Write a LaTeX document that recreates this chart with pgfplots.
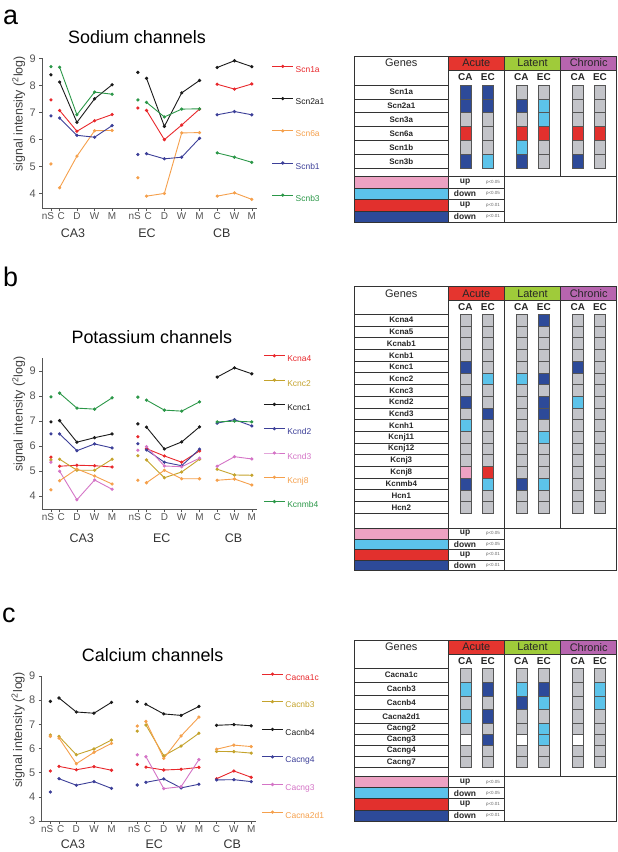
\documentclass[border=0pt]{standalone}
\usepackage{pgfplots}
\pgfplotsset{compat=1.18}
\usepackage{pgfplotstable}
\usepackage{fontspec}
\setmainfont{Liberation Sans}
\setsansfont{Liberation Sans}

% line colours
\definecolor{lred}{HTML}{E8282C}
\definecolor{lblack}{HTML}{1A1A1A}
\definecolor{lorange}{HTML}{F5A04C}
\definecolor{lblue}{HTML}{3C3F98}
\definecolor{lgreen}{HTML}{2B9748}
\definecolor{lolive}{HTML}{C4A32C}
\definecolor{lpink}{HTML}{D474C6}
% table colours
\definecolor{cdblue}{HTML}{2D4A99}
\definecolor{ccyan}{HTML}{5CC3EA}
\definecolor{cred}{HTML}{E2302D}
\definecolor{cpink}{HTML}{EDA2C3}
\definecolor{cgray}{HTML}{C3C4C9}
\definecolor{cedge}{HTML}{555555}
\definecolor{hacute}{HTML}{E5352F}
\definecolor{hlatent}{HTML}{9FCB3A}
\definecolor{hchronic}{HTML}{B765AF}
\definecolor{axgray}{HTML}{555555}

\pgfdeclareplotmark{cell}{%
  \pgfpathrectangle{\pgfpoint{-5.5bp}{-0.5bp*\cellh}}{\pgfpoint{11bp}{1bp*\cellh}}%
  \pgfusepathqfillstroke}

\newcommand\nSlab{\makebox[6bp][r]{nS}}
\newcommand\Clab{\makebox[4bp][l]{C}}

\pgfplotsset{
  chan/.style={
    scale only axis, width=214.7bp,
    axis lines=left,
    every outer x axis line/.append style={-},
    every outer y axis line/.append style={-},
    axis line style={-, draw=axgray, line width=0.7bp},
    xmin=0, xmax=12.4,
    xtick={0.5,1,2,3.02,4.03,5.52,6.02,7.05,8.05,9.08,10.1,11.1,12.1},
    xticklabels={\nSlab,\Clab,D,W,M,\nSlab,\Clab,D,W,M,C,W,M},
    ytick={3,4,5,6,7,8,9},
    tick align=outside, major tick length=3bp,
    tick style={draw=axgray, line width=0.6bp},
    xticklabel style={font=\fontsize{10}{11}\selectfont, text=axgray, inner sep=1.5bp},
    yticklabel style={font=\fontsize{11}{12}\selectfont, text=axgray},
    /pgf/number format/assume math mode=true,
    clip=false, unbounded coords=jump,
    every axis plot/.append style={line width=0.9bp, mark=*, mark size=1.15bp},
    ylabel={signal intensity (\textsuperscript{2}log)},
    ylabel style={font=\fontsize{12.5}{14}\selectfont, text=black!75,
      at={(axis description cs:-0.11,0.63)}, anchor=center},
    title style={font=\fontsize{18}{20}\selectfont, anchor=center},
    legend cell align=left,
    legend style={draw=none, fill=none, anchor=north west, inner sep=0pt,
      column sep=2bp,
      nodes={inner sep=0pt, font=\fontsize{8.5}{9}\selectfont,
        text height=6.5bp, text depth=0pt}},
    legend image code/.code={\draw[mark repeat=2,mark phase=2,##1]
      plot coordinates {(0bp,2.8bp)(10.5bp,2.8bp)(21bp,2.8bp)};},
  },
  cellplot/.style={
    scatter, only marks, scatter src=explicit symbolic,
    visualization depends on={\thisrow{h}\as\cellh},
    scatter/classes={
      D={mark=cell, draw=cedge, fill=cdblue, line width=0.6bp},
      C={mark=cell, draw=cedge, fill=ccyan, line width=0.6bp},
      R={mark=cell, draw=cedge, fill=cred, line width=0.6bp},
      P={mark=cell, draw=cedge, fill=cpink, line width=0.6bp},
      G={mark=cell, draw=cedge, fill=cgray, line width=0.6bp},
      W={mark=cell, draw=cedge, fill=white, line width=0.6bp}},
  },
}

\tikzset{
  tline/.style={draw=black!80, line width=0.7bp},
  hfont/.style={font=\fontsize{11}{12}\selectfont, text=black!85},
  cafont/.style={font=\bfseries\fontsize{10}{11}\selectfont, text=black!85},
  nfont/.style={font=\bfseries\fontsize{8}{9}\selectfont, text=black!85},
  upfont/.style={font=\bfseries\fontsize{8.5}{9}\selectfont, text=black!85},
  pfont/.style={font=\fontsize{4.5}{5}\selectfont, text=black!60},
  grp/.style={font=\fontsize{12.5}{14}\selectfont, text=black!80},
}

% #1 top, #2 band bottom, #3 rows top, #4 rows a/b/name, #5 empty row bottom, #6 legend bottom
\newcommand\drawtable[6]{%
  \draw[tline,fill=white] (354.3,#1) rectangle (448.3,#3);
  \node[hfont] at (401.3,{(#1+#2)/2}) {Genes};
  \draw[tline,fill=white] (354.3,#3) rectangle (448.3,#5);
  \foreach \a/\b/\n in {#4}{%
    \draw[tline,fill=white] (354.3,\a) rectangle (448.3,\b);
    \node[nfont] at (401.3,{(\a+\b)/2}) {\n};}
  \fill[hacute] (448.3,#1) rectangle (504.3,#2);
  \fill[hlatent] (504.3,#1) rectangle (560.7,#2);
  \fill[hchronic] (560.7,#1) rectangle (616.7,#2);
  \node[hfont] at (476.3,{(#1+#2)/2}) {Acute};
  \node[hfont] at (532.5,{(#1+#2)/2}) {Latent};
  \node[hfont] at (588.7,{(#1+#2)/2}) {Chronic};
  \draw[tline] (448.3,#2) -- (616.7,#2);
  \foreach \x/\t in {465.3/CA,487.8/EC,521.3/CA,543.8/EC,577.8/CA,600/EC}{%
    \node[cafont] at (\x,{(#2+#3)/2}) {\t};}
  \draw[tline] (448.3,#1) rectangle (504.3,#5);
  \draw[tline] (504.3,#1) rectangle (560.7,#5);
  \draw[tline] (560.7,#1) rectangle (616.7,#5);
  \foreach \k/\c/\t/\p in {0/cpink/up/{p<0.05},1/ccyan/down/{p<0.05},2/cred/up/{p<0.01},3/cdblue/down/{p<0.01}}{%
    \draw[tline,fill=\c] (354.3,{#5+\k*(#6-#5)/4}) rectangle (448.3,{#5+(\k+1)*(#6-#5)/4});
    \draw[tline] (448.3,{#5+\k*(#6-#5)/4}) rectangle (504.3,{#5+(\k+1)*(#6-#5)/4});
    \node[upfont] at (465,{#5+(\k+0.5)*(#6-#5)/4}) {\t};
    \node[pfont] at (493,{#5+(\k+0.5)*(#6-#5)/4}) {\p};}
  \draw[tline] (504.3,#5) rectangle (616.7,#6);
}

\newcommand\cellcols[1]{%
  \addplot[cellplot] table[x expr=465.3, y=y, meta=aca] {#1};
  \addplot[cellplot] table[x expr=487.8, y=y, meta=aec] {#1};
  \addplot[cellplot] table[x expr=521.3, y=y, meta=lca] {#1};
  \addplot[cellplot] table[x expr=543.8, y=y, meta=lec] {#1};
  \addplot[cellplot] table[x expr=577.8, y=y, meta=cca] {#1};
  \addplot[cellplot] table[x expr=600.0, y=y, meta=cec] {#1};
}

% significance tables: D down p<0.01, C down p<0.05, R up p<0.01, P up p<0.05, G none, W no data
\pgfplotstableread{
y h aca aec lca lec cca cec
91.95 13.9 D D G G G G
105.85 13.9 D D D C G G
119.75 13.9 G G G C G G
133.65 13.9 R G R R R R
147.55 13.9 G G C G G G
161.45 13.9 D C D G D G
}\tblNa

\pgfplotstableread{
y h aca aec lca lec cca cec
320.15 11.7 G G G D G G
331.85 11.7 G G G G G G
343.55 11.7 G G G G G G
355.25 11.7 G G G G G G
366.95 11.7 D G G G D G
378.65 11.7 G C C D G G
390.35 11.7 G G G G G G
402.05 11.7 D G G D C G
413.75 11.7 G D G D G G
425.45 11.7 C G G G G G
437.15 11.7 G G G C G G
448.85 11.7 G G G G G G
460.55 11.7 G G G G G G
472.25 11.7 P R G G G G
483.95 11.7 D C D C G G
495.65 11.7 G G G G G G
507.35 11.7 G G G G G G
}\tblK

\pgfplotstableread{
y h aca aec lca lec cca cec
675.2 13.75 G G G G G G
688.95 13.75 C D C D G C
702.7 13.75 G G D C G C
716.45 13.75 C D G G G G
728.85 11.1 G G G C G G
739.95 11.1 W D W C W G
751.05 11.1 G G G G G G
762.15 11.1 G G G G G G
}\tblCa

\begin{document}
\begin{tikzpicture}
\path[use as bounding box] (0,0) rectangle (618bp,852bp);

% panel letters
\node[font=\fontsize{27}{30}\selectfont, anchor=base west, inner sep=0pt] at (3bp,827bp) {a};
\node[font=\fontsize{27}{30}\selectfont, anchor=base west, inner sep=0pt] at (3bp,565bp) {b};
\node[font=\fontsize{27}{30}\selectfont, anchor=base west, inner sep=0pt] at (2bp,229bp) {c};

% ---------- a: sodium channels ----------
\begin{axis}[chan, at={(42.3bp,643.7bp)}, anchor=south west, height=150bp,
  ymin=3.45, ymax=9,
  title={Sodium channels}, title style={at={(axis description cs:0.441,1.102)}},
  legend style={at={(axis description cs:1.068,0.955)}, row sep=25bp}]
\addplot[lred] coordinates {(0.5,7.46)(0.75,nan)(1,7.07)(2,6.30)(3.02,6.69)(4.03,6.92)(4.5,nan)(5.52,7.16)(5.77,nan)(6.02,7.07)(7.05,5.99)(8.05,6.53)(9.08,7.12)(9.5,nan)(10.1,8.04)(11.1,7.86)(12.1,8.05)};
\addlegendentry{\textcolor{lred}{Scn1a}}
\addplot[lblack] coordinates {(0.5,8.39)(0.75,nan)(1,8.12)(2,6.63)(3.02,7.50)(4.03,8.02)(4.5,nan)(5.52,8.48)(5.77,nan)(6.02,8.26)(7.05,6.48)(8.05,7.72)(9.08,8.18)(9.5,nan)(10.1,8.66)(11.1,8.91)(12.1,8.69)};
\addlegendentry{\textcolor{lblack}{Scn2a1}}
\addplot[lorange] coordinates {(0.5,5.09)(0.75,nan)(1,4.21)(2,5.38)(3.02,6.32)(4.03,6.33)(4.5,nan)(5.52,4.58)(5.77,nan)(6.02,3.90)(7.05,4.00)(8.05,6.24)(9.08,6.25)(9.5,nan)(10.1,3.90)(11.1,4.02)(12.1,3.78)};
\addlegendentry{\textcolor{lorange}{Scn6a}}
\addplot[lblue] coordinates {(0.5,6.87)(0.75,nan)(1,6.79)(2,6.15)(3.02,6.08)(4.03,6.51)(4.5,nan)(5.52,5.44)(5.77,nan)(6.02,5.47)(7.05,5.28)(8.05,5.34)(9.08,6.04)(9.5,nan)(10.1,6.91)(11.1,7.03)(12.1,6.91)};
\addlegendentry{\textcolor{lblue}{Scnb1}}
\addplot[lgreen] coordinates {(0.5,8.69)(0.75,nan)(1,8.67)(2,6.91)(3.02,7.75)(4.03,7.67)(4.5,nan)(5.52,7.46)(5.77,nan)(6.02,7.37)(7.05,6.83)(8.05,7.12)(9.08,7.13)(9.5,nan)(10.1,5.50)(11.1,5.34)(12.1,5.15)};
\addlegendentry{\textcolor{lgreen}{Scnb3}}
\node[grp] at (axis cs:1.77,3.45) [yshift=-24.7bp] {CA3};
\node[grp] at (axis cs:6.05,3.45) [yshift=-24.7bp] {EC};
\node[grp] at (axis cs:10.37,3.45) [yshift=-24.7bp] {CB};
\end{axis}

% ---------- b: potassium channels ----------
\begin{axis}[chan, at={(42.3bp,342.7bp)}, anchor=south west, height=151bp,
  ymin=3.47, ymax=9.5,
  title={Potassium channels}, title style={at={(axis description cs:0.51,1.103)}},
  legend style={at={(axis description cs:1.029,1.0255)}, row sep=17.1bp}]
\addplot[lred] coordinates {(0.5,5.55)(0.75,nan)(1,5.19)(2,5.23)(3.02,5.21)(4.03,5.16)(4.5,nan)(5.52,6.37)(5.77,nan)(6.02,5.89)(7.05,5.60)(8.05,5.35)(9.08,5.80)};
\addlegendentry{\textcolor{lred}{Kcna4}}
\addplot[lolive] coordinates {(0.5,5.44)(0.75,nan)(1,5.47)(2,5.03)(3.02,5.03)(4.03,5.47)(4.5,nan)(5.52,5.61)(5.77,nan)(6.02,5.44)(7.05,4.73)(8.05,4.96)(9.08,5.47)(9.5,nan)(10.1,5.07)(11.1,4.84)(12.1,4.83)};
\addlegendentry{\textcolor{lolive}{Kcnc2}}
\addplot[lblack] coordinates {(0.5,6.96)(0.75,nan)(1,7.01)(2,6.15)(3.02,6.33)(4.03,6.48)(4.5,nan)(5.52,6.88)(5.77,nan)(6.02,6.75)(7.05,5.88)(8.05,6.16)(9.08,6.76)(9.5,nan)(10.1,8.75)(11.1,9.12)(12.1,8.88)};
\addlegendentry{\textcolor{lblack}{Kcnc1}}
\addplot[lblue] coordinates {(0.5,6.48)(0.75,nan)(1,6.48)(2,5.81)(3.02,6.08)(4.03,5.92)(4.5,nan)(5.52,6.09)(5.77,nan)(6.02,5.84)(7.05,5.35)(8.05,5.21)(9.08,5.87)(9.5,nan)(10.1,6.91)(11.1,7.05)(12.1,6.80)};
\addlegendentry{\textcolor{lblue}{Kcnd2}}
\addplot[lpink] coordinates {(0.5,5.35)(0.75,nan)(1,4.99)(2,3.85)(3.02,4.64)(4.03,4.27)(4.5,nan)(5.52,5.83)(5.77,nan)(6.02,5.97)(7.05,5.20)(8.05,5.17)(9.08,5.51)(9.5,nan)(10.1,5.19)(11.1,5.57)(12.1,5.48)};
\addlegendentry{\textcolor{lpink}{Kcnd3}}
\addplot[lorange] coordinates {(0.5,4.25)(0.75,nan)(1,4.61)(2,5.08)(3.02,4.80)(4.03,4.48)(4.5,nan)(5.52,4.63)(5.77,nan)(6.02,4.53)(7.05,5.03)(8.05,4.69)(9.08,4.69)(9.5,nan)(10.1,4.63)(11.1,4.68)(12.1,4.44)};
\addlegendentry{\textcolor{lorange}{Kcnj8}}
\addplot[lgreen] coordinates {(0.5,7.96)(0.75,nan)(1,8.11)(2,7.51)(3.02,7.47)(4.03,7.92)(4.5,nan)(5.52,7.95)(5.77,nan)(6.02,7.83)(7.05,7.43)(8.05,7.39)(9.08,7.76)(9.5,nan)(10.1,6.96)(11.1,6.99)(12.1,6.96)};
\addlegendentry{\textcolor{lgreen}{Kcnmb4}}
\node[grp] at (axis cs:2.28,3.47) [yshift=-28.7bp] {CA3};
\node[grp] at (axis cs:6.9,3.47) [yshift=-28.7bp] {EC};
\node[grp] at (axis cs:11.04,3.47) [yshift=-28.7bp] {CB};
\end{axis}

% ---------- c: calcium channels ----------
\begin{axis}[chan, at={(41.7bp,31bp)}, anchor=south west, height=145bp,
  ymin=3, ymax=9,
  title={Calcium channels}, title style={at={(axis description cs:0.517,1.103)}},
  legend style={at={(axis description cs:1.023,1.0224)}, row sep=20.4bp}]
\addplot[lred] coordinates {(0.5,5.07)(0.75,nan)(1,5.26)(2,5.12)(3.02,5.25)(4.03,5.10)(4.5,nan)(5.52,5.34)(5.77,nan)(6.02,5.23)(7.05,5.11)(8.05,5.14)(9.08,5.22)(9.5,nan)(10.1,4.75)(11.1,5.07)(12.1,4.81)};
\addlegendentry{\textcolor{lred}{Cacna1c}}
\addplot[lolive] coordinates {(0.5,6.56)(0.75,nan)(1,6.50)(2,5.74)(3.02,5.98)(4.03,6.35)(4.5,nan)(5.52,6.72)(5.77,nan)(6.02,6.97)(7.05,5.70)(8.05,6.10)(9.08,6.63)(9.5,nan)(10.1,5.88)(11.1,5.87)(12.1,5.81)};
\addlegendentry{\textcolor{lolive}{Cacnb3}}
\addplot[lblack] coordinates {(0.5,7.95)(0.75,nan)(1,8.09)(2,7.51)(3.02,7.46)(4.03,7.91)(4.5,nan)(5.52,7.94)(5.77,nan)(6.02,7.83)(7.05,7.43)(8.05,7.37)(9.08,7.74)(9.5,nan)(10.1,6.96)(11.1,6.99)(12.1,6.94)};
\addlegendentry{\textcolor{lblack}{Cacnb4}}
\addplot[lblue] coordinates {(0.5,4.20)(0.75,nan)(1,4.75)(2,4.48)(3.02,4.63)(4.03,4.35)(4.5,nan)(5.52,4.49)(5.77,nan)(6.02,4.60)(7.05,4.74)(8.05,4.37)(9.08,4.52)(9.5,nan)(10.1,4.70)(11.1,4.71)(12.1,4.63)};
\addlegendentry{\textcolor{lblue}{Cacng4}}
\addplot[lpink] coordinates {(5.52,5.74)(5.77,nan)(6.02,5.66)(7.05,4.34)(8.05,4.42)(9.08,5.54)};
\addlegendentry{\textcolor{lpink}{Cacng3}}
\addplot[lorange] coordinates {(0.5,6.50)(0.75,nan)(1,6.43)(2,5.37)(3.02,5.84)(4.03,6.21)(4.5,nan)(5.52,6.93)(5.77,nan)(6.02,7.12)(7.05,5.59)(8.05,6.52)(9.08,7.30)(9.5,nan)(10.1,5.97)(11.1,6.14)(12.1,6.08)};
\addlegendentry{\textcolor{lorange}{Cacna2d1}}
\node[grp] at (axis cs:1.8,3) [yshift=-23bp] {CA3};
\node[grp] at (axis cs:6.5,3) [yshift=-23bp] {EC};
\node[grp] at (axis cs:11.0,3) [yshift=-23bp] {CB};
\end{axis}

% ---------- tables ----------
\begin{scope}[shift={(0,852bp)}, x=1bp, y=-1bp]
\drawtable{56}{70}{85}{85/98.9/Scn1a, 98.9/112.8/Scn2a1, 112.8/126.7/Scn3a, 126.7/140.6/Scn6a, 140.6/154.5/Scn1b, 154.5/168.4/Scn3b}{176.7}{222.3}
\drawtable{286.7}{300.7}{314.3}{314.3/326.0/Kcna4, 326.0/337.7/Kcna5, 337.7/349.4/Kcnab1, 349.4/361.1/Kcnb1, 361.1/372.8/Kcnc1, 372.8/384.5/Kcnc2, 384.5/396.2/Kcnc3, 396.2/407.9/Kcnd2, 407.9/419.6/Kcnd3, 419.6/431.3/Kcnh1, 431.3/443.0/Kcnj11, 443.0/454.7/Kcnj12, 454.7/466.4/Kcnj3, 466.4/478.1/Kcnj8, 478.1/489.8/Kcnmb4, 489.8/501.5/Hcn1, 501.5/513.2/Hcn2}{528.3}{570.7}
\drawtable{640}{654.3}{668.3}{668.3/682.05/Cacna1c, 682.05/695.8/Cacnb3, 695.8/709.55/Cacnb4, 709.55/723.3/Cacna2d1, 723.3/734.4/Cacng2, 734.4/745.5/Cacng3, 745.5/756.6/Cacng4, 756.6/767.7/Cacng7}{776.7}{821}
\end{scope}

\begin{axis}[at={(0,0)}, anchor=south west, scale only axis, width=618bp, height=852bp,
  xmin=0, xmax=618, ymin=0, ymax=852, y dir=reverse, hide axis, clip=false]
\cellcols{\tblNa}
\cellcols{\tblK}
\cellcols{\tblCa}
\end{axis}
\end{tikzpicture}
\end{document}
